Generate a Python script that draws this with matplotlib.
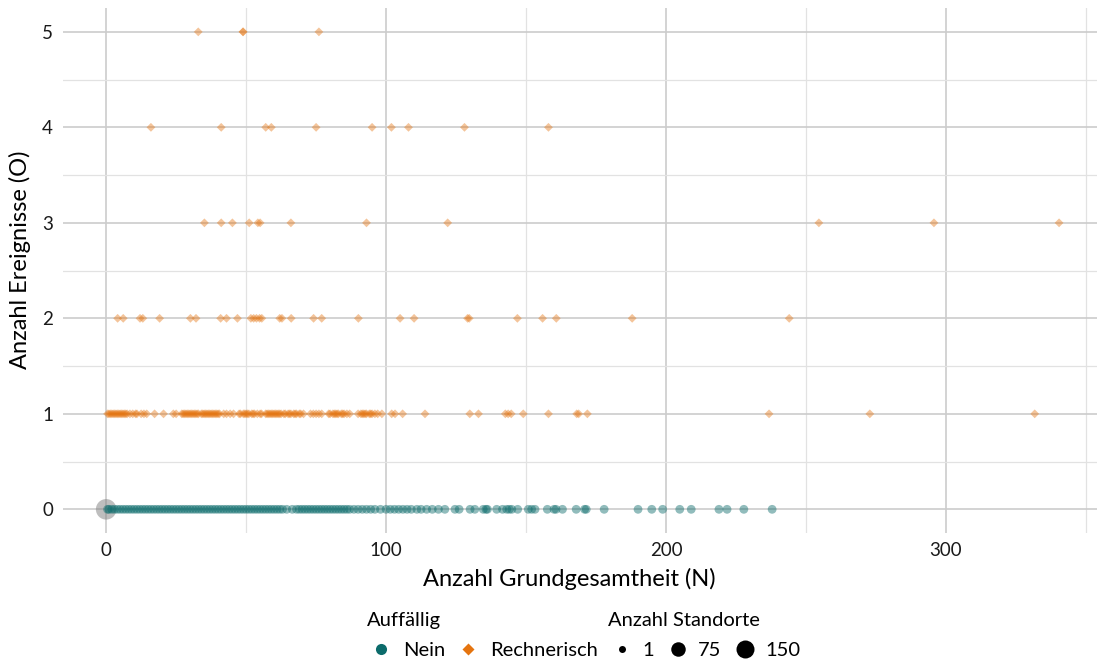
import numpy as np
import matplotlib
matplotlib.use("Agg")
import matplotlib.pyplot as plt
from matplotlib.lines import Line2D
from matplotlib.ticker import MultipleLocator

plt.rcParams['font.family'] = ['Lato', 'DejaVu Sans']

# ---- data -------------------------------------------------------------
# Auffällig = "Nein": O = 0, values of N
nein_N = [0.5, 1, 2, 3, 4, 5, 6, 7, 8, 9, 10, 11, 12, 13, 14, 15, 16, 17, 18, 19,
          20, 21, 22, 23, 24, 25, 26, 27, 28, 29, 30, 31, 32, 33, 34, 35, 36, 37, 38, 39,
          40, 41, 42, 43, 44, 45, 46, 47, 48, 49, 50, 51, 52, 53, 54, 55, 56, 57, 58, 59,
          60, 61, 62, 63, 64.5, 66.5, 68, 69, 70, 71, 72, 73, 74, 75, 76, 77, 78, 79,
          80, 81, 82, 83, 84, 85, 86, 87, 88.5, 90, 91.5, 93, 94.5, 96, 98, 100, 101.5,
          103, 104.5, 106, 107.5, 109, 111, 112.5, 114.5, 116.5, 118.7, 121, 124.6, 126.1,
          130.0, 131.7, 134.7, 135.7, 136.2, 139.5, 141.6, 143.1, 144.0, 144.9, 147.0,
          150.8, 152.0, 153.2, 157.6, 160.0, 160.7, 163.0, 167.9, 170.9, 171.5, 177.9,
          190.0, 194.9, 198.8, 204.9, 209.0, 218.9, 221.8, 227.8, 237.9]
nein_standorte = 8

# Auffällig = "Rechnerisch": N values per number of events O
rech_O1_N = [0.5, 1, 1.5, 2, 2.5, 3, 3.5, 4, 4.5, 5, 5.5, 6, 6.5, 7, 7.5,
             8.5, 9.5, 10.5, 11, 12.5, 13.5, 14.5, 17.3, 20.5, 24, 25,
             27, 27.5, 28, 28.5, 29, 29.5, 30, 30.5, 31, 31.5, 32, 32.5, 33,
             34, 34.5, 35, 35.5, 36, 36.5, 37, 37.5, 38, 38.5, 39, 39.5, 40, 40.5,
             42, 43, 44.3, 45.5, 47.5, 48, 49, 49.5, 50, 50.5, 51, 52, 52.5, 53, 54, 55, 55.5,
             57, 57.5, 58, 58.5, 59, 59.5, 60, 60.5, 61, 61.5, 62, 62.5,
             63.5, 64, 65, 65.5, 66, 67, 67.5, 68, 69, 69.5, 70.5,
             73, 74, 75, 76, 77, 79.5, 80, 81, 81.5, 82, 82.5, 83, 84, 84.5, 85, 86, 87,
             90, 91, 91.5, 92, 92.5, 93, 94, 94.5, 95, 96, 97, 98.5,
             102, 103.2, 105.9, 113.9, 129.9, 133.0, 142.6, 143.6, 144.7, 149.0,
             158.0, 168.1, 168.8, 171.9, 236.8, 272.8, 331.7]
rech_O2_N = [4.1, 6.1, 12.1, 13.1, 19.1, 30.1, 32.1, 40.9, 43.0, 46.9, 51.7, 52.7,
             53.7, 54.8, 55.6, 62.0, 62.8, 66.1, 74.1, 77.0, 90.1, 105.0, 110.0, 129.1,
             129.7, 146.9, 155.9, 160.8, 187.9, 244.0]
rech_O3_N = [35.1, 41.1, 45.1, 51.1, 54.2, 55.0, 66.0, 93.0, 122.0, 254.6, 295.7, 340.4]
rech_O4_N = [16.0, 41.1, 57.0, 59.0, 75.0, 95.0, 101.9, 108.0, 128.0, 158.0]
rech_O5_N = [32.9, 48.9, 48.9, 76.0]
rech_standorte = 1

# sites with N = 0 (no category)
na_N = [0]
na_O = [0]
na_standorte = [220]

legend_sizes = [1, 75, 150]
categories = ["Nein", "Rechnerisch"]
colors = {"Nein": "#0b6b6b", "Rechnerisch": "#e5740f", "NA": "#7f7f7f"}

x_ticks = [0, 100, 200, 300]
y_ticks = [0, 1, 2, 3, 4, 5]


def size_s(n):
    d_px = 6.0 + 0.98 * np.sqrt(np.asarray(n, dtype=float))
    return (d_px * 0.72) ** 2


# ---- figure -----------------------------------------------------------
fig = plt.figure(figsize=(11.01, 6.64), dpi=100)
ax = fig.add_axes([0.057, 0.197, 0.9395, 0.791])

major_c = "#cccccc"
minor_c = "#e2e2e2"

# NA big point
ax.scatter(na_N, na_O, s=size_s(na_standorte), c=colors["NA"], alpha=0.5,
           edgecolors="none", zorder=3)

# Nein points
ax.scatter(nein_N, np.zeros(len(nein_N)), s=size_s(nein_standorte),
           c=colors["Nein"], alpha=0.45, edgecolors="none", zorder=3)

# Rechnerisch points
rech_rows = [rech_O1_N, rech_O2_N, rech_O3_N, rech_O4_N, rech_O5_N]
rx, ry = [], []
for o, row in enumerate(rech_rows, start=1):
    rx.extend(row)
    ry.extend([o] * len(row))
ax.scatter(rx, ry, s=size_s(rech_standorte) * 0.8, c=colors["Rechnerisch"],
           alpha=0.42, marker="D", edgecolors="none", zorder=3)

ax.set_xlim(-15.5, 354)
ax.set_ylim(-0.25, 5.25)
ax.set_xticks(x_ticks)
ax.set_yticks(y_ticks)
ax.xaxis.set_minor_locator(MultipleLocator(50))
ax.yaxis.set_minor_locator(MultipleLocator(0.5))
ax.grid(which="major", color=major_c, linewidth=1.2, zorder=0)
ax.grid(which="minor", color=minor_c, linewidth=0.9, zorder=0)
ax.set_axisbelow(True)
for sp in ax.spines.values():
    sp.set_visible(False)
ax.tick_params(which="both", length=0)
ax.tick_params(axis="y", pad=7, labelsize=13.5, labelcolor="#1a1a1a")
ax.tick_params(axis="x", pad=6, labelsize=13.5, labelcolor="#1a1a1a")

ax.set_xlabel("Anzahl Grundgesamtheit (N)", fontsize=17)
ax.set_ylabel("Anzahl Ereignisse (O)", fontsize=17)
ax.xaxis.set_label_coords(0.49, -0.066)
ax.yaxis.set_label_coords(-0.031, 0.52)

# ---- legends ----------------------------------------------------------
h_col = [
    Line2D([], [], linestyle="none", marker="o", markersize=8,
           markerfacecolor=colors["Nein"], markeredgecolor="none"),
    Line2D([], [], linestyle="none", marker="D", markersize=6.5,
           markerfacecolor=colors["Rechnerisch"], markeredgecolor="none"),
]
leg_kw = dict(loc="lower left", frameon=False, fontsize=14.5, title_fontsize=14.5,
              handlelength=1.4, alignment="left",
              borderaxespad=0.0, labelspacing=0.6)
leg1 = fig.legend(h_col, categories, title="Auffällig",
                  bbox_to_anchor=(0.326, -0.004), ncol=2, columnspacing=0.4,
                  handletextpad=0.4, **leg_kw)

h_size = [Line2D([], [], linestyle="none", marker="o",
                 markersize=np.sqrt(size_s(v)), markerfacecolor="black",
                 markeredgecolor="none") for v in legend_sizes]
leg2 = fig.legend(h_size, [str(v) for v in legend_sizes], title="Anzahl Standorte",
                  bbox_to_anchor=(0.545, -0.004), ncol=3, columnspacing=0.48,
                  handletextpad=0.3, **leg_kw)

fig.savefig("out.png", dpi=100)
